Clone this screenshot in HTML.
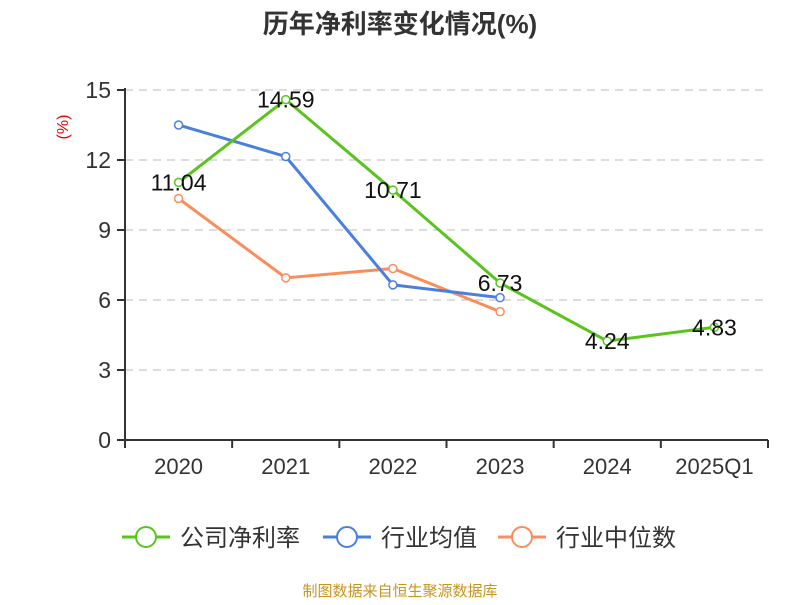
<!DOCTYPE html>
<html><head><meta charset="utf-8"><style>
body{margin:0;background:#fff;width:800px;height:600px;overflow:hidden;font-family:"Liberation Sans","Noto Sans CJK SC",sans-serif}
</style></head><body>
<svg id="c" width="800" height="600" xmlns="http://www.w3.org/2000/svg">
<text x="400" y="33" text-anchor="middle" font-size="26" font-weight="bold" fill="#333">历年净利率变化情况(%)</text>
<text transform="translate(68,127) rotate(-90)" text-anchor="middle" font-size="16" fill="#e00">(%)</text>
<g id="grid"></g><g id="axes"></g><g id="series"></g>
<g id="legend"></g>
<text x="400" y="596" text-anchor="middle" font-size="15" fill="#c8951e">制图数据来自恒生聚源数据库</text>
</svg>
<script>
const categories=["2020","2021","2022","2023","2024","2025Q1"];
const companyValues=[11.04,14.59,10.71,6.73,4.24,4.83];
const industryAvg=[13.5,12.15,6.65,6.1];
const industryMedian=[10.35,6.95,7.35,5.5];
const yTicks=[0,3,6,9,12,15];
const NS="http://www.w3.org/2000/svg";
const X0=125,X1=768,Y0=440,Y1=90,YMAX=15;
const bw=(X1-X0)/categories.length;
const xs=i=>X0+bw*(i+0.5);
const ys=v=>Y0-(Y0-Y1)*v/YMAX;
function mk(tag,attrs,parent,text){const e=document.createElementNS(NS,tag);for(const k in attrs)e.setAttribute(k,attrs[k]);if(text!==undefined)e.textContent=text;parent.appendChild(e);return e;}
const grid=document.getElementById('grid'),axes=document.getElementById('axes'),ser=document.getElementById('series'),leg=document.getElementById('legend');
yTicks.forEach(t=>{const y=ys(t);
 if(t>0){const l=mk('line',{x1:X0,x2:X1,y1:y,y2:y,stroke:'#bbb','stroke-dasharray':'8,6'},grid);
 
 }
 mk('line',{x1:X0-8,x2:X0,y1:y,y2:y,stroke:'#333','stroke-width':2},axes);
 const tx=mk('text',{x:X0-14,y:y+8,'text-anchor':'end','font-size':23,fill:'#333'},axes,t);
 
 
});
mk('line',{x1:X0,x2:X0,y1:Y1-2,y2:Y0,stroke:'#333','stroke-width':2},axes);
mk('line',{x1:X0,x2:X1,y1:Y0,y2:Y0,stroke:'#333','stroke-width':2},axes);
for(let i=0;i<=categories.length;i++){const x=X0+bw*i;mk('line',{x1:x,x2:x,y1:Y0,y2:Y0+8,stroke:'#333','stroke-width':2},axes);}
categories.forEach((c,i)=>{const t=mk('text',{x:xs(i),y:474,'text-anchor':'middle','font-size':22,fill:'#333'},axes,c);
 
 });
function series(vals,color,name,labels){
 const pts=vals.map((v,i)=>xs(i)+','+ys(v)).join(' ');
 const pl=mk('polyline',{points:pts,fill:'none',stroke:color,'stroke-width':3},ser);
 
 
 vals.forEach((v,i)=>{const c=mk('circle',{cx:xs(i),cy:ys(v),r:4,fill:'#fff',stroke:color,'stroke-width':1.5},ser);
  
  
  if(labels){const t=mk('text',{x:xs(i),y:ys(v)+8,'text-anchor':'middle','font-size':23,fill:'#111'},ser,v.toFixed(2));
  
  }
 });
}
series(industryMedian,'#fb8d5c','industry-median',false);
series(industryAvg,'#4a7fe0','industry-average',false);
series(companyValues,'#5ac41e','company-net-margin',true);
[["公司净利率","#5ac41e",122],["行业均值","#4a7fe0",323],["行业中位数","#fb8d5c",498]].forEach(([t,c,x])=>{
 const g=mk('g',{},leg);
 
 
 mk('line',{x1:x,x2:x+48,y1:537,y2:537,stroke:c,'stroke-width':3},g);
 mk('circle',{cx:x+24,cy:537,r:10,fill:'#fff',stroke:c,'stroke-width':2},g);
 mk('text',{x:x+58,y:546,'font-size':24,fill:'#333'},g,t);
});
</script>
</body></html>
